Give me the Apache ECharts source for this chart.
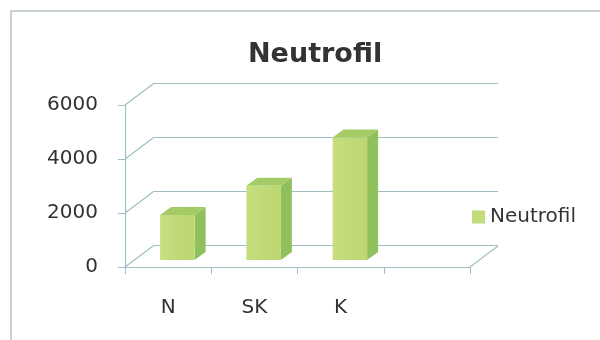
<!DOCTYPE html>
<html>
<head>
<meta charset="utf-8">
<script src="https://cdn.jsdelivr.net/npm/echarts@6/dist/echarts.min.js"></script>
<style>
  html, body { margin: 0; padding: 0; background: #fff; }
  #chart { width: 600px; height: 340px; }
</style>
</head>
<body>
<div id="chart"></div>
<script>
// data
var categories = ['N', 'SK', 'K', ''];
var values = [1670, 2750, 4540];
var yTicks = [0, 2000, 4000, 6000];
var seriesName = 'Neutrofil';

// depth of the fake 3d box (pixels)
var DX = 28, DY = 21;
var gridColor = '#9dbec3';
var textColor = '#333333';

var chart = echarts.init(document.getElementById('chart'));

function renderBar(params, api) {
    var i = api.value(0);
    var base = api.coord([i, 0]);
    var top = api.coord([i, api.value(1)]);
    var band = api.size([1, 0])[0];
    var w = band * 0.4;
    // bar front sits a third into the floor
    var ox = DX * 0.33, oy = DY * 0.33;
    var sx = 11, sy = 8;
    var xl = base[0] - w / 2 + ox, xr = base[0] + w / 2 + ox;
    var yb = base[1] - oy, yt = top[1] - oy;
    return {
        type: 'group',
        children: [
            {
                type: 'polygon',
                shape: { points: [[xr, yt], [xr + sx, yt - sy], [xr + sx, yb - sy], [xr, yb]] },
                style: { fill: '#8fc05c' }
            },
            {
                type: 'polygon',
                shape: { points: [[xl, yt], [xl + sx, yt - sy], [xr + sx, yt - sy], [xr, yt]] },
                style: { fill: '#a4cb66' }
            },
            {
                type: 'rect',
                shape: { x: xl, y: yt, width: xr - xl, height: yb - yt },
                style: {
                    fill: new echarts.graphic.LinearGradient(0, 0, 1, 0, [
                        { offset: 0, color: '#c6de80' },
                        { offset: 1, color: '#bcd671' }
                    ])
                }
            }
        ]
    };
}

function renderWall(params, api) {
    var p = api.coord([0, api.value(1)]);
    var band = api.size([1, 0])[0];
    var x0 = p[0] - band / 2;
    return {
        type: 'line',
        shape: { x1: x0, y1: p[1], x2: x0 + DX, y2: p[1] - DY },
        style: { stroke: gridColor, lineWidth: 1.2 }
    };
}

function renderFloorEdge(params, api) {
    var p = api.coord([api.value(0), 0]);
    var band = api.size([1, 0])[0];
    var x0 = p[0] + band / 2;
    return {
        type: 'line',
        shape: { x1: x0, y1: p[1], x2: x0 + DX, y2: p[1] - DY },
        style: { stroke: gridColor, lineWidth: 1.2 }
    };
}

var option = {
    animation: false,
    textStyle: { fontFamily: 'DejaVu Sans' },
    title: {
        text: seriesName,
        left: 243,
        top: 36,
        textStyle: { fontFamily: 'DejaVu Sans', fontWeight: 'bold', fontSize: 27, color: textColor }
    },
    legend: {
        data: [seriesName],
        icon: 'rect',
        left: 467,
        top: 202,
        itemWidth: 13,
        itemHeight: 13,
        textStyle: { fontFamily: 'DejaVu Sans', fontSize: 20, color: textColor }
    },
    graphic: [{
        type: 'rect',
        shape: { x: 11, y: 11, width: 620, height: 360 },
        style: { fill: 'none', stroke: '#b5c4c4', lineWidth: 1.5 },
        silent: true
    }],
    grid: [
        // back wall
        { left: 153, right: 102, top: 83, bottom: 95 },
        // front plane
        { left: 125, right: 130, top: 105, bottom: 73 }
    ],
    xAxis: [
        {
            type: 'category', gridIndex: 0, data: categories,
            axisLine: { show: false }, axisTick: { show: false }, axisLabel: { show: false }
        },
        {
            type: 'category', gridIndex: 1, data: categories,
            axisLine: { show: true, lineStyle: { color: gridColor, width: 1.2 } },
            axisTick: { show: true, length: 7, lineStyle: { color: gridColor } },
            axisLabel: { margin: 31, fontSize: 20, color: textColor, fontFamily: 'DejaVu Sans' }
        }
    ],
    yAxis: [
        {
            type: 'value', gridIndex: 0, min: 0, max: 6000, interval: 2000,
            axisLine: { show: false }, axisTick: { show: false }, axisLabel: { show: false },
            splitLine: { show: true, lineStyle: { color: gridColor, width: 1.2 } }
        },
        {
            type: 'value', gridIndex: 1, min: 0, max: 6000, interval: 2000,
            axisLine: { show: true, lineStyle: { color: gridColor, width: 1.2 } },
            axisTick: { show: true, length: 7, lineStyle: { color: gridColor } },
            axisLabel: {
                margin: 27, fontSize: 20, color: textColor, fontFamily: 'DejaVu Sans',
                formatter: function (v) { return String(v); }
            },
            splitLine: { show: false }
        }
    ],
    series: [
        {
            name: 'wall',
            type: 'custom',
            xAxisIndex: 1, yAxisIndex: 1,
            renderItem: renderWall,
            data: yTicks.map(function (v) { return [0, v]; }),
            silent: true
        },
        {
            name: 'floor',
            type: 'custom',
            xAxisIndex: 1, yAxisIndex: 1,
            renderItem: renderFloorEdge,
            data: [[categories.length - 1, 0]],
            silent: true
        },
        {
            name: seriesName,
            type: 'custom',
            xAxisIndex: 1, yAxisIndex: 1,
            itemStyle: { color: '#c3db7c' },
            renderItem: renderBar,
            data: values.map(function (v, i) { return [i, v]; })
        }
    ]
};

chart.setOption(option);
</script>
</body>
</html>
